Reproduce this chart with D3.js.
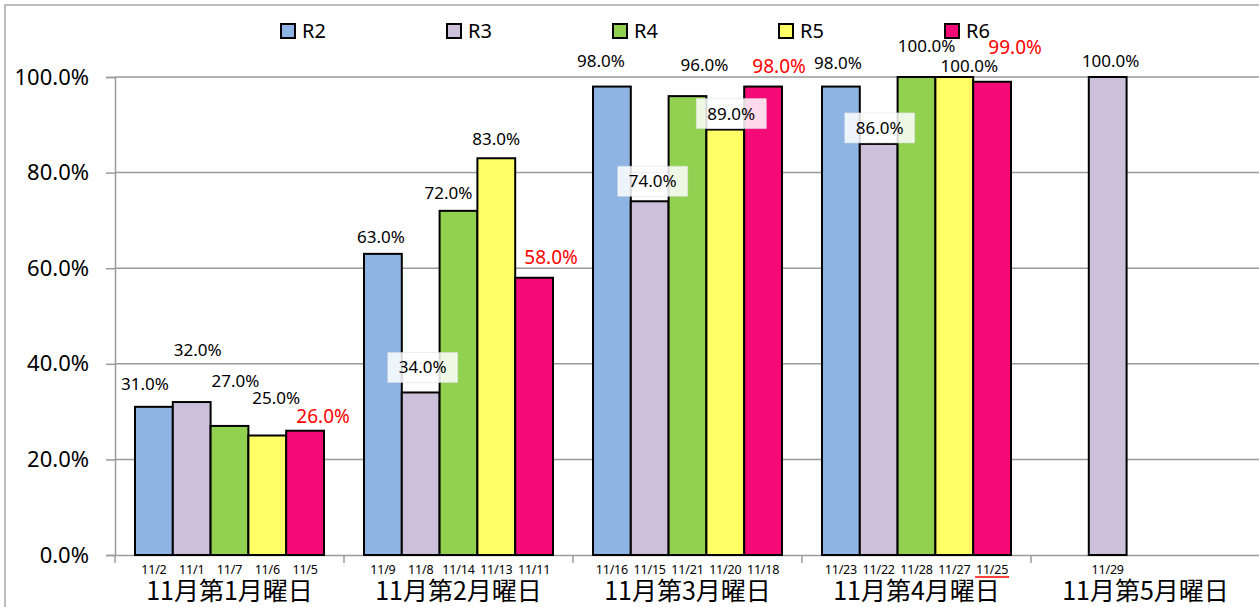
<!DOCTYPE html>
<html>
<head>
<meta charset="utf-8">
<script src="https://cdn.jsdelivr.net/npm/d3@7"></script>
<style>
  body { margin: 0; background: #fff; }
  svg { display: block; }
</style>
</head>
<body>
<svg id="chart" width="1259" height="607"></svg>
<script>
// データ
const categories = ["11月第1月曜日", "11月第2月曜日", "11月第3月曜日", "11月第4月曜日", "11月第5月曜日"];
const seriesNames = ["R2", "R3", "R4", "R5", "R6"];
const valuesR2 = [31, 63, 98, 98, null];
const valuesR3 = [32, 34, 74, 86, 100];
const valuesR4 = [27, 72, 96, 100, null];
const valuesR5 = [25, 83, 89, 100, null];
const valuesR6 = [26, 58, 98, 99, null];
const datesR2 = ["11/2", "11/9", "11/16", "11/23", ""];
const datesR3 = ["11/1", "11/8", "11/15", "11/22", "11/29"];
const datesR4 = ["11/7", "11/14", "11/21", "11/28", ""];
const datesR5 = ["11/6", "11/13", "11/20", "11/27", ""];
const datesR6 = ["11/5", "11/11", "11/18", "11/25", ""];
const yTicks = [0, 20, 40, 60, 80, 100];

const colors = { R2: "#8db4e2", R3: "#ccc0da", R4: "#92d050", R5: "#ffff66", R6: "#f50a78" };
const valueMap = { R2: valuesR2, R3: valuesR3, R4: valuesR4, R5: valuesR5, R6: valuesR6 };
const dateMap = { R2: datesR2, R3: datesR3, R4: datesR4, R5: datesR5, R6: datesR6 };

// ラベル位置の手動調整 (Excel の手動配置を再現)
const nudge = {
  "R2|0": [-9, -9], "R3|0": [6, -38], "R4|0": [6, -31], "R5|0": [9, -23], "R6|0": [18, 0],
  "R2|1": [-2, -3], "R3|1": [2, -11], "R4|1": [-10, -4], "R5|1": [0, -5], "R6|1": [17, -6],
  "R2|2": [-11, -12], "R3|2": [3, -6], "R4|2": [17, -17], "R5|2": [6, -2], "R6|2": [16, -6],
  "R2|3": [-3, -10], "R3|3": [1, -2], "R4|3": [10, -17], "R5|3": [15, 3], "R6|3": [23, -20],
  "R3|4": [3, -2]
};
const boxed = new Set(["R3|1", "R3|2", "R5|2", "R3|3"]);

const svg = d3.select("#chart");
const font = "'Noto Sans', 'Open Sans', sans-serif";

const x0 = d3.scaleBand().domain(categories).range([115, 1260]).padding(0);
const x1 = d3.scaleBand().domain(seriesNames).range([20, x0.bandwidth() - 20]).padding(0);
const y = d3.scaleLinear().domain([0, 100]).range([555, 77]);

// 外枠
svg.append("path")
  .attr("d", "M5,607V5H1259")
  .attr("fill", "none")
  .attr("stroke", "#a6a6a6")
  .attr("stroke-width", 1.5);

// グリッド線
svg.append("g")
  .selectAll("line")
  .data(yTicks.filter(d => d > 0))
  .enter().append("line")
    .attr("x1", 115).attr("x2", 1260)
    .attr("y1", d => y(d)).attr("y2", d => y(d))
    .attr("stroke", "#9a9a9a")
    .attr("stroke-width", 1.5);

// Y軸
const yAxis = svg.append("g")
  .attr("transform", "translate(115,0)")
  .call(d3.axisLeft(y).tickValues(yTicks).tickSize(9).tickPadding(17).tickFormat(d => d.toFixed(1) + "%"));
yAxis.selectAll("line").attr("stroke", "#9a9a9a").attr("stroke-width", 1.5);
yAxis.select(".domain").attr("stroke", "#9a9a9a").attr("stroke-width", 1.5);
yAxis.selectAll("text").attr("font-family", font).attr("font-size", "22px").attr("fill", "#000");

// X軸
const xAxis = svg.append("g")
  .attr("transform", "translate(0,555)")
  .call(d3.axisBottom(x0).tickSize(0).tickFormat(""));
xAxis.select(".domain").attr("stroke", "#9a9a9a").attr("stroke-width", 1.5);
xAxis.selectAll(".tick").remove();
svg.append("g")
  .selectAll("line")
  .data(categories)
  .enter().append("line")
    .attr("x1", d => x0(d)).attr("x2", d => x0(d))
    .attr("y1", 555).attr("y2", 563)
    .attr("stroke", "#9a9a9a")
    .attr("stroke-width", 1.5);

// カテゴリラベル
svg.append("g")
  .selectAll("text")
  .data(categories)
  .enter().append("text")
    .attr("x", d => x0(d) + x0.bandwidth() / 2)
    .attr("y", 600)
    .attr("text-anchor", "middle")
    .attr("font-family", "'Noto Sans CJK JP', sans-serif")
    .attr("font-size", "25px")
    .text(d => d);

// 棒
const items = [];
categories.forEach((c, i) => {
  seriesNames.forEach(s => {
    items.push({ cat: c, ci: i, key: s, value: valueMap[s][i], date: dateMap[s][i] });
  });
});

svg.append("g")
  .selectAll("rect")
  .data(items.filter(d => d.value != null))
  .enter().append("rect")
    .attr("x", d => x0(d.cat) + x1(d.key))
    .attr("y", d => y(d.value))
    .attr("width", x1.bandwidth())
    .attr("height", d => y(0) - y(d.value))
    .attr("fill", d => colors[d.key])
    .attr("stroke", "#000")
    .attr("stroke-width", 2);

// 日付ラベル
const dateG = svg.append("g");
dateG.selectAll("text")
  .data(items.filter(d => d.date))
  .enter().append("text")
    .attr("x", d => x0(d.cat) + x1(d.key) + x1.bandwidth() / 2)
    .attr("y", 574)
    .attr("text-anchor", "middle")
    .attr("font-family", font)
    .attr("font-size", "12.5px")
    .attr("letter-spacing", "-0.2px")
    .text(d => d.date);
// 11/25 の赤い下線
dateG.selectAll("line")
  .data(items.filter(d => d.date === "11/25"))
  .enter().append("line")
    .attr("x1", d => x0(d.cat) + x1(d.key) + x1.bandwidth() / 2 - 17)
    .attr("x2", d => x0(d.cat) + x1(d.key) + x1.bandwidth() / 2 + 17)
    .attr("y1", 577).attr("y2", 577)
    .attr("stroke", "#ff0000")
    .attr("stroke-width", 1.5);

// 値ラベル
const labelG = svg.append("g");
items.filter(d => d.value != null).forEach(d => {
  const id = d.key + "|" + d.ci;
  const n = nudge[id] || [0, 0];
  const cx = x0(d.cat) + x1(d.key) + x1.bandwidth() / 2 + n[0];
  const cy = y(d.value) - 14 + n[1];
  if (boxed.has(id)) {
    labelG.append("rect")
      .attr("x", cx - 35).attr("y", cy - 15)
      .attr("width", 70).attr("height", 30)
      .attr("fill", "#fff")
      .attr("fill-opacity", 0.85)
      .attr("stroke", "#d8dde8")
      .attr("stroke-dasharray", "1,1");
  }
  labelG.append("text")
    .attr("x", cx)
    .attr("y", cy)
    .attr("dy", "0.35em")
    .attr("text-anchor", "middle")
    .attr("font-family", font)
    .attr("font-size", d.key === "R6" ? "19px" : "17px")
    .attr("fill", d.key === "R6" ? "#ff0000" : "#000")
    .text(d.value.toFixed(1) + "%");
});

// 凡例
const legend = svg.append("g").attr("transform", "translate(281,24)");
seriesNames.forEach((s, i) => {
  const gx = i * 166;
  legend.append("rect")
    .attr("x", gx).attr("y", 0)
    .attr("width", 14).attr("height", 14)
    .attr("fill", colors[s])
    .attr("stroke", "#000")
    .attr("stroke-width", 2);
  legend.append("text")
    .attr("x", gx + 21).attr("y", 7)
    .attr("dy", "0.36em")
    .attr("font-family", font)
    .attr("font-size", "20px")
    .text(s);
});
</script>
</body>
</html>
